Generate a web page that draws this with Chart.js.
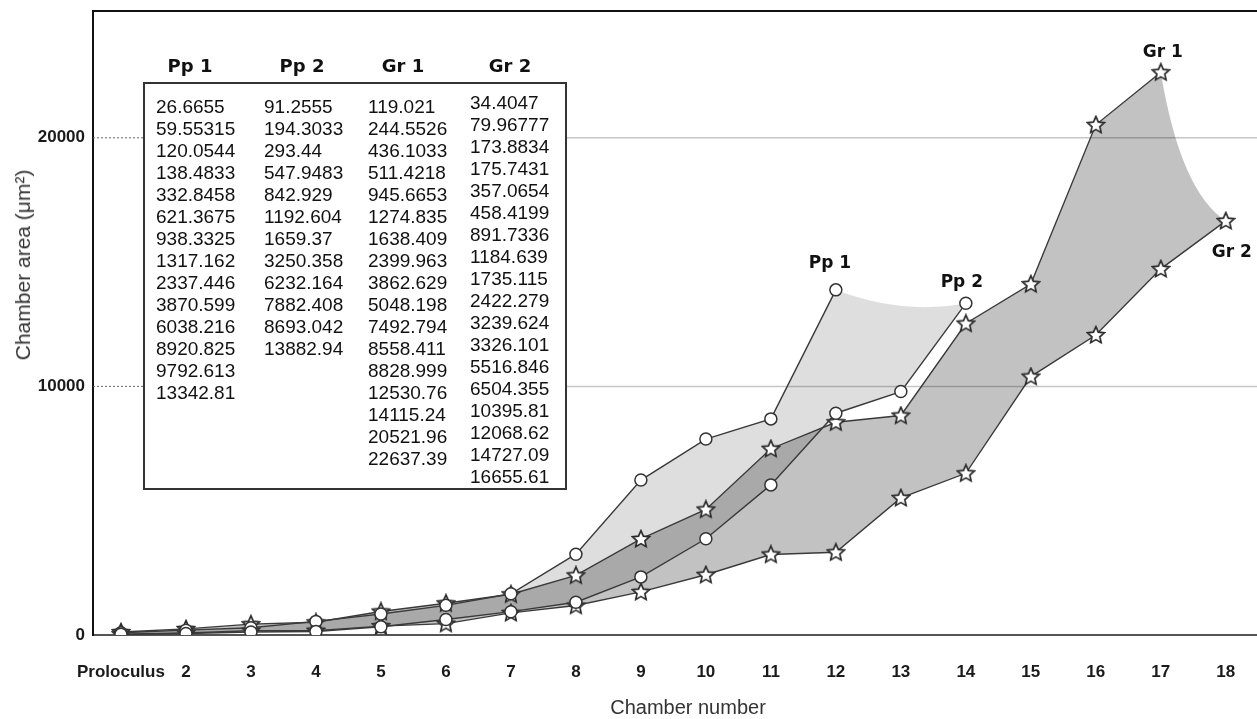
<!DOCTYPE html>
<html>
<head>
<meta charset="utf-8">
<script src="https://cdn.jsdelivr.net/npm/chart.js@4"></script>
<style>
  body { margin: 0; background: #fff; }
  #wrap { position: relative; width: 1257px; height: 719px; }
  #yTitle {
    position: absolute; left: 23px; top: 265px;
    transform: translate(-50%, -50%) rotate(-90deg);
    font: 21px "Liberation Sans", Arial, sans-serif; color: #333; white-space: nowrap;
  }
  #xTitle {
    position: absolute; left: 688px; top: 707px;
    transform: translate(-50%, -50%);
    font: 20px "Liberation Sans", Arial, sans-serif; color: #333; white-space: nowrap;
  }
  #dataBox {
    position: absolute; left: 143px; top: 82px; width: 420px; height: 404px;
    border: 2px solid #333; background: #fff; box-sizing: content-box;
  }
  .col { position: absolute; font: 19px "Liberation Sans", Arial, sans-serif; line-height: 22px; color: #111; }
  .head { position: absolute; width: 100px; text-align: center; font: bold 18px "DejaVu Sans", sans-serif; color: #111; }
</style>
</head>
<body>
<div id="wrap">
  <canvas id="myChart" width="1257" height="719"></canvas>
  <div id="yTitle">Chamber area (μm²)</div>
  <div id="xTitle">Chamber number</div>
  <div id="heads"></div>
  <div id="dataBox"></div>
</div>
<script>
// chamber labels on the x axis
const categories = ['Proloculus', '2', '3', '4', '5', '6', '7', '8', '9', '10', '11', '12', '13', '14', '15', '16', '17', '18']
const yTicks = [0, 10000, 20000]

// chamber areas (µm²) per specimen
const pp1 = [26.6655, 59.55315, 120.0544, 138.4833, 332.8458, 621.3675, 938.3325, 1317.162, 2337.446, 3870.599, 6038.216, 8920.825, 9792.613, 13342.81]
const pp2 = [91.2555, 194.3033, 293.44, 547.9483, 842.929, 1192.604, 1659.37, 3250.358, 6232.164, 7882.408, 8693.042, 13882.94]
const gr1 = [119.021, 244.5526, 436.1033, 511.4218, 945.6653, 1274.835, 1638.409, 2399.963, 3862.629, 5048.198, 7492.794, 8558.411, 8828.999, 12530.76, 14115.24, 20521.96, 22637.39]
const gr2 = [34.4047, 79.96777, 173.8834, 175.7431, 357.0654, 458.4199, 891.7336, 1184.639, 1735.115, 2422.279, 3239.624, 3326.101, 5516.846, 6504.355, 10395.81, 12068.62, 14727.09, 16655.61]

const seriesNames = ['Pp 1', 'Pp 2', 'Gr 1', 'Gr 2']
// text written at the end of each line, as in the figure
const endLabels = ['Pp 2', 'Pp 1', 'Gr 1', 'Gr 2']

const TABLE_LEFT = 143
const lineColor = '#3a3a3a'

// table inset, built from the same arrays
const heads = document.getElementById('heads')
const box = document.getElementById('dataBox')
const headCenters = [190, 302, 403, 510]
const colLefts = [11, 119, 223, 325]
const colTops = [12, 12, 12, 8]
;[pp1, pp2, gr1, gr2].forEach((arr, i) => {
  const h = document.createElement('div')
  h.className = 'head'
  h.style.left = headCenters[i] - 50 + 'px'
  h.style.top = '55px'
  h.textContent = seriesNames[i]
  heads.appendChild(h)
  const c = document.createElement('div')
  c.className = 'col'
  c.style.left = colLefts[i] + 'px'
  c.style.top = colTops[i] + 'px'
  c.innerHTML = arr.map((v) => String(v)).join('<br>')
  box.appendChild(c)
})

// outlined star marker
function makeStar(size) {
  const c = document.createElement('canvas')
  c.width = c.height = size
  const g = c.getContext('2d')
  const cx = size / 2, cy = size / 2 + 0.5
  const R = size / 2 - 1.2, r = R * 0.47
  g.beginPath()
  for (let k = 0; k < 10; k++) {
    const a = -Math.PI / 2 + (k * Math.PI) / 5
    const rad = k % 2 ? r : R
    g.lineTo(cx + rad * Math.cos(a), cy + rad * Math.sin(a))
  }
  g.closePath()
  g.fillStyle = '#fff'
  g.fill()
  g.strokeStyle = '#2a2a2a'
  g.lineWidth = 1.7
  g.stroke()
  return c
}
const star = makeStar(20)

const toXY = (arr) => arr.map((v, i) => ({ x: i + 1, y: v }))

function circleSet(label, arr) {
  return {
    label, data: toXY(arr), borderColor: lineColor, borderWidth: 1.4,
    pointStyle: 'circle', pointRadius: 6, pointBorderWidth: 1.5,
    pointBorderColor: '#333', pointBackgroundColor: '#fff', tension: 0,
  }
}
function starSet(label, arr) {
  return {
    label, data: toXY(arr), borderColor: lineColor, borderWidth: 1.4,
    pointStyle: star, pointRadius: 9, tension: 0,
  }
}

// band between two series, closed by a curve between their last points
function drawBand(chart, upperIdx, lowerIdx, color, cpFn) {
  const up = chart.getDatasetMeta(upperIdx).data
  const lo = chart.getDatasetMeta(lowerIdx).data
  const ctx = chart.ctx
  ctx.save()
  ctx.beginPath()
  up.forEach((p, i) => (i ? ctx.lineTo(p.x, p.y) : ctx.moveTo(p.x, p.y)))
  const a = up[up.length - 1], b = lo[lo.length - 1]
  const cp = cpFn(a, b)
  ctx.quadraticCurveTo(cp.x, cp.y, b.x, b.y)
  for (let i = lo.length - 2; i >= 0; i--) ctx.lineTo(lo[i].x, lo[i].y)
  ctx.closePath()
  ctx.fillStyle = color
  ctx.fill()
  ctx.restore()
}

const bandsPlugin = {
  id: 'bands',
  beforeDatasetsDraw(chart) {
    const { ctx, chartArea, scales } = chart
    // grid: dotted left of the inset, plain grey to the right
    yTicks.forEach((t) => {
      if (!t) return
      const y = scales.y.getPixelForValue(t)
      ctx.save()
      ctx.strokeStyle = '#666'
      ctx.lineWidth = 1
      ctx.setLineDash([2, 2])
      ctx.beginPath()
      ctx.moveTo(chartArea.left, y)
      ctx.lineTo(TABLE_LEFT, y)
      ctx.stroke()
      ctx.setLineDash([])
      ctx.strokeStyle = '#c6c6c6'
      ctx.lineWidth = 1.5
      ctx.beginPath()
      ctx.moveTo(TABLE_LEFT, y)
      ctx.lineTo(chartArea.right, y)
      ctx.stroke()
      ctx.restore()
    })
    drawBand(chart, 1, 0, 'rgba(0,0,0,0.13)', (a, b) => ({ x: (a.x + b.x) / 2, y: Math.max(a.y, b.y) + 12 }))
    drawBand(chart, 2, 3, 'rgba(0,0,0,0.24)', (a, b) => ({ x: a.x + (b.x - a.x) * 0.3, y: a.y + (b.y - a.y) * 0.8 }))
  },
  afterDraw(chart) {
    const { ctx, chartArea } = chart
    ctx.save()
    ctx.strokeStyle = '#111'
    ctx.lineWidth = 2
    ctx.beginPath()
    ctx.moveTo(chartArea.left, chartArea.top)
    ctx.lineTo(chartArea.right, chartArea.top)
    ctx.stroke()
    // end-of-line labels
    const offs = [[-4, -21], [-6, -26], [2, -20], [6, 32]]
    ctx.font = 'bold 17px "DejaVu Sans", sans-serif'
    ctx.fillStyle = '#111'
    ctx.textAlign = 'center'
    ctx.textBaseline = 'middle'
    endLabels.forEach((txt, i) => {
      const pts = chart.getDatasetMeta(i).data
      const p = pts[pts.length - 1]
      ctx.fillText(txt, p.x + offs[i][0], p.y + offs[i][1])
    })
    ctx.restore()
  },
}

const tickFont = { family: '"Liberation Sans", Arial, sans-serif', size: 17, weight: 'bold' }
// invisible tick marks set the label gap without padding the chart sides
const hiddenTicks = (len) => ({ display: true, drawOnChartArea: false, drawTicks: true, tickLength: len, tickColor: 'rgba(0,0,0,0)' })

const config = {
  type: 'line',
  data: {
    datasets: [
      circleSet(seriesNames[0], pp1),
      circleSet(seriesNames[1], pp2),
      starSet(seriesNames[2], gr1),
      starSet(seriesNames[3], gr2),
    ],
  },
  options: {
    responsive: false,
    animation: false,
    layout: { autoPadding: false, padding: { top: 11, right: 0, left: 0, bottom: 0 } },
    plugins: { legend: { display: false }, tooltip: { enabled: false } },
    scales: {
      x: {
        type: 'linear',
        min: 0.57,
        max: 18.48,
        afterBuildTicks: (s) => { s.ticks = categories.map((c, i) => ({ value: i + 1 })) },
        afterFit: (s) => { s.height = 84 },
        grid: hiddenTicks(27),
        border: { color: '#555', width: 2 },
        ticks: {
          autoSkip: false, maxRotation: 0, padding: 0, color: '#1a1a1a', font: tickFont,
          callback: (v) => categories[v - 1],
        },
      },
      y: {
        min: 0,
        max: 25100,
        afterBuildTicks: (s) => { s.ticks = yTicks.map((v) => ({ value: v })) },
        afterFit: (s) => { s.width = 93 },
        grid: hiddenTicks(8),
        border: { color: '#111', width: 2 },
        ticks: { padding: 0, color: '#1a1a1a', font: tickFont, callback: (v) => String(v) },
      },
    },
  },
  plugins: [bandsPlugin],
}

var myChart = new Chart(document.getElementById('myChart'), config)
</script>
</body>
</html>
